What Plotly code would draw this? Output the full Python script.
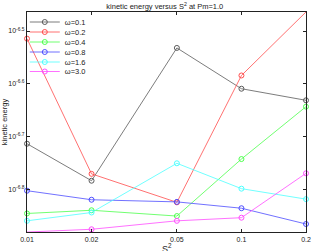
import plotly.graph_objects as go

s2 = [0.01, 0.02, 0.05, 0.1, 0.2]
series_names = ["ω=0.1", "ω=0.2", "ω=0.4", "ω=0.8", "ω=1.6", "ω=3.0"]
ke_w01 = [1.936e-7, 1.648e-7, 2.938e-7, 2.460e-7, 2.339e-7]
ke_w02 = [3.059e-7, 1.698e-7, 1.500e-7, 2.606e-7, 3.436e-7]
ke_w04 = [1.429e-7, 1.449e-7, 1.413e-7, 1.811e-7, 2.275e-7]
ke_w08 = [1.578e-7, 1.517e-7, 1.503e-7, 1.462e-7, 1.365e-7]
ke_w16 = [1.384e-7, 1.435e-7, 1.778e-7, 1.592e-7, 1.521e-7]
ke_w30 = [1.318e-7, 1.334e-7, 1.384e-7, 1.403e-7, 1.702e-7]
colors = ["#5a5a5a", "#ff4d4d", "#4dff4d", "#4d4dff", "#4dffff", "#ff4dff"]

x_tickvals = [0.01, 0.02, 0.05, 0.1, 0.2]
x_ticktext = ["0.01", "0.02", "0.05", "0.1", "0.2"]
y_tickvals = [10**-6.8, 10**-6.7, 10**-6.6, 10**-6.5]
y_ticktext = ["10<sup>-6.8</sup>", "10<sup>-6.7</sup>", "10<sup>-6.6</sup>", "10<sup>-6.5</sup>"]

FONT = "Liberation Sans, Arial"
W, H = 311, 251
ML, MR, MT, MB = 27, 5, 12, 19
plot_h = H - MT - MB
plot_w = W - ML - MR

fig = go.Figure()
legend_names = ["legend", "legend2", "legend3", "legend4", "legend5", "legend6"]
for i, (name, ys, c) in enumerate(zip(series_names, [ke_w01, ke_w02, ke_w04, ke_w08, ke_w16, ke_w30], colors)):
    fig.add_trace(go.Scatter(
        x=s2, y=ys, name=name, mode="lines+markers", cliponaxis=False,
        line=dict(color=c, width=0.8),
        marker=dict(symbol="circle-open", size=5, color=c, line=dict(width=1, color=c)),
        legend=legend_names[i],
    ))

axis_common = dict(
    showgrid=False, zeroline=False, showline=True, linecolor="#222", linewidth=1.2,
    mirror="ticks", ticks="inside", ticklen=3, tickcolor="#222", automargin=False,
    tickfont=dict(family=FONT, size=7, color="#222"),
)
fig.update_xaxes(type="log", range=[-2, -0.69897], tickvals=x_tickvals, ticktext=x_ticktext,
                 **axis_common)
fig.update_yaxes(type="log", range=[-6.880, -6.464], tickvals=y_tickvals, ticktext=y_ticktext,
                 title=dict(text="kinetic energy", font=dict(family=FONT, size=7.5, color="#222"), standoff=2),
                 **axis_common)

fig.add_annotation(text="S<sup>2</sup>", xref="paper", yref="paper", x=0.5, y=-16 / plot_h,
                   xanchor="center", yanchor="middle", showarrow=False,
                   font=dict(family=FONT, size=9, color="#222"))

legend_layout = {}
row_px = [22, 32, 42, 52, 62, 71.5]
for i, ln in enumerate(legend_names):
    legend_layout[ln] = dict(
        x=-5 / plot_w + 0.01, y=(H - MB - row_px[i]) / plot_h, xanchor="left", yanchor="middle",
        bgcolor="rgba(255,255,255,0)", borderwidth=0,
        font=dict(family=FONT, size=7.5, color="#222"), itemwidth=30,
    )

fig.update_layout(
    width=W, height=H,
    margin=dict(l=ML, r=MR, t=MT, b=MB),
    paper_bgcolor="white", plot_bgcolor="white",
    title=dict(text="kinetic energy versus S<sup>2</sup> at Pm=1.0", x=0.53, xanchor="center", y=0.985, yanchor="top",
               font=dict(family=FONT, size=7.5, color="#222")),
    showlegend=True,
    **legend_layout,
)

fig.write_html("out.html", config={"displayModeBar": False},
               post_script="document.body.style.margin='0';document.body.style.overflow='hidden';")
